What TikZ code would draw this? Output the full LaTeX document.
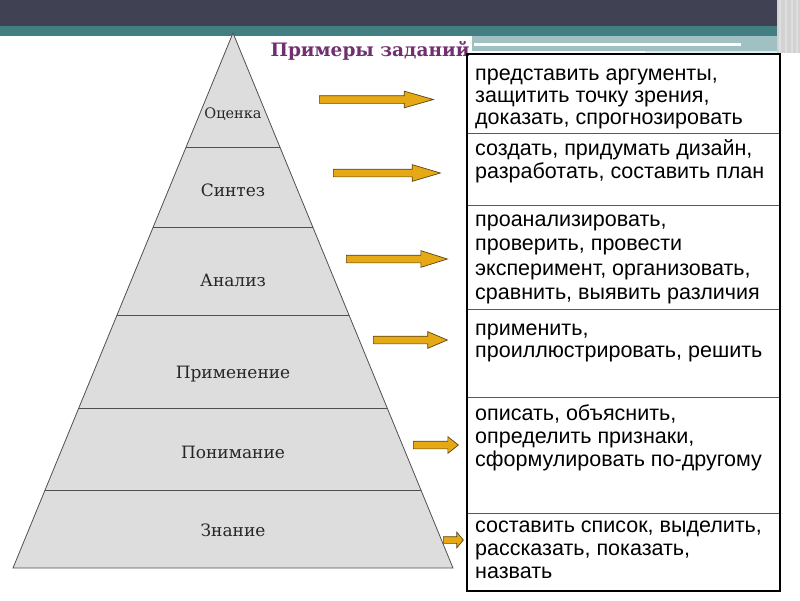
\documentclass[tikz,border=0pt]{standalone}
\usepackage{fontspec}
\setmainfont{DejaVu Serif}
\newfontfamily\listfont{Liberation Sans}
\usetikzlibrary{positioning,calc,shapes.arrows}
\definecolor{banddark}{RGB}{65,65,84}
\definecolor{bandteal}{RGB}{67,126,131}
\definecolor{bandlight}{RGB}{160,192,196}
\definecolor{titlepurple}{RGB}{112,48,112}
\definecolor{pyrgray}{RGB}{221,221,221}
\definecolor{pyredge}{RGB}{80,80,80}
\definecolor{arroworange}{RGB}{230,168,20}
\definecolor{arrowedge}{RGB}{90,70,20}

\begin{document}
\begin{tikzpicture}[x=1pt,y=-1pt,
lvl/.style={font=\fontsize{17}{20}\selectfont,text=black!85},
cell/.style={draw=black!65,line width=0.8pt,minimum width=313pt,inner sep=0pt,outer sep=0pt},
txt/.style={anchor=north west,align=left,inner sep=0pt,font=\listfont\fontsize{21.5}{23}\selectfont},
harrow/.style={single arrow,draw=arrowedge,fill=arroworange,line width=0.7pt,inner xsep=0pt,inner ysep=3.5pt,single arrow head extend=4.5pt,anchor=tail}
]
\useasboundingbox (0,0) rectangle (800,600);
% header bands
\fill[banddark] (0,0) rectangle (800,26);
\fill[bandteal] (0,26) rectangle (800,36);
\fill[bandlight] (472,36) rectangle (800,51);
\fill[white] (474,43) rectangle (741,45.5);
\fill[white!70!bandlight] (645,50.5) rectangle (778,52.5);
\fill[gray!35] (777,0) rectangle (800,53);
\foreach \x in {779,785,791,796}
  \fill[white!75!gray] (\x,0) rectangle (\x+2,53);

% pyramid
\coordinate (apex) at (233,33);
\coordinate (bl) at (13,568);
\coordinate (br) at (453,568);
\filldraw[fill=pyrgray,draw=pyredge,line width=0.8pt] (apex) -- (bl) -- (br) -- cycle;
\foreach \y in {147,227,315,408,490}
  \draw[pyredge,line width=0.8pt] ($(apex)!{(\y-33)/535}!(bl)$) -- ($(apex)!{(\y-33)/535}!(br)$);
\node[lvl,font=\fontsize{14.5}{17}\selectfont] (ocenka) at (233,114) {Оценка};
\node[lvl] (sintez) at (233,190) {Синтез};
\node[lvl] (analiz) at (233,280) {Анализ};
\node[lvl] (primen) at (233,374) {Применение};
\node[lvl] (ponim) at (233,452) {Понимание};
\node[lvl] (znanie) at (233,530) {Знание};

\node[anchor=base west,text=titlepurple,font=\bfseries\fontsize{18.5}{22}\selectfont] (title) at (267,56) {Примеры заданий};

% table of tasks
\node[cell,anchor=north west,minimum height=79pt] (r1) at (467,54) {};
\node[cell,minimum height=72pt,below=0pt of r1] (r2) {};
\node[cell,minimum height=104pt,below=0pt of r2] (r3) {};
\node[cell,minimum height=88pt,below=0pt of r3] (r4) {};
\node[cell,minimum height=116pt,below=0pt of r4] (r5) {};
\node[cell,minimum height=78pt,below=0pt of r5] (r6) {};
\draw[line width=2pt] (r1.north west) rectangle (r6.south east);

\node[txt,font=\listfont\fontsize{21.5}{22}\selectfont] (t1) at ($(r1.north west)+(8,10.5)$) {\strut представить аргументы,\\защитить точку зрения,\\доказать, спрогнозировать};
\node[txt] (t2) at ($(r2.north west)+(8,6)$) {\strut создать, придумать дизайн,\\разработать, составить план};
\node[txt,font=\listfont\fontsize{21.5}{24.5}\selectfont] (t3) at ($(r3.north west)+(8,4)$) {\strut проанализировать,\\проверить, провести\\эксперимент, организовать,\\сравнить, выявить различия};
\node[txt,font=\listfont\fontsize{21.5}{22}\selectfont] (t4) at ($(r4.north west)+(8,11)$) {\strut применить,\\проиллюстрировать, решить};
\node[txt] (t5) at ($(r5.north west)+(8,7)$) {\strut описать, объяснить,\\определить признаки,\\сформулировать по-другому};
\node[txt] (t6) at ($(r6.north west)+(8,3)$) {\strut составить список, выделить,\\рассказать, показать,\\назвать};

% arrows
\node[harrow,minimum height=114pt,single arrow tip angle=32] (a1) at (319,99.5) {};
\node[harrow,minimum height=107pt,single arrow tip angle=33] (a2) at (333,173) {};
\node[harrow,minimum height=101pt,single arrow tip angle=35] (a3) at (346,259) {};
\node[harrow,minimum height=74pt,single arrow tip angle=46] (a4) at (373,340) {};
\node[harrow,minimum height=45pt,single arrow tip angle=77] (a5) at (413,445) {};
\node[harrow,minimum height=20pt,inner ysep=3pt,single arrow tip angle=100] (a6) at (443,540) {};
\end{tikzpicture}
\end{document}
